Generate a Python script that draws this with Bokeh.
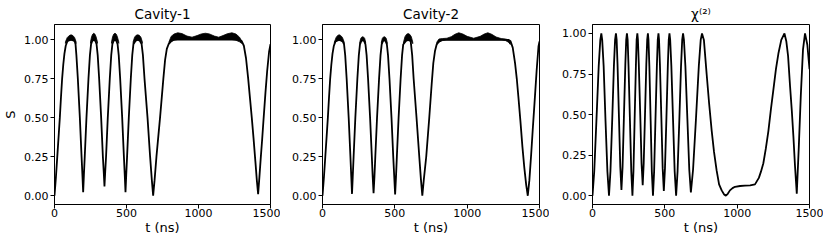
from bokeh.plotting import figure
from bokeh.layouts import row
from bokeh.models import Range1d, FixedTicker, NumeralTickFormatter
from bokeh.embed import file_html
from bokeh.resources import INLINE

# ---------------- data ----------------
titles = ["Cavity-1", "Cavity-2", "χ⁽²⁾"]
x_ticks = [0, 500, 1000, 1500]
y_ticks = [0.0, 0.25, 0.5, 0.75, 1.0]

# Cavity-1 : central curve
t1 = [0, 10, 20, 30, 37, 45, 53, 61, 69, 78, 90, 115, 140, 146, 152, 162, 176, 188, 194, 199,
      204, 210, 222, 236, 246, 254, 262, 273, 284, 292, 300, 310, 324, 336, 342, 347, 352, 358,
      370, 384, 394, 402, 410, 420, 430, 438, 446, 456, 470, 482, 488, 493, 498, 504, 516, 530,
      540, 548, 562, 578, 594, 605, 614, 625, 646, 664, 676, 685, 695, 708, 733, 756, 768, 780,
      792, 810, 830, 1280, 1300, 1315, 1330, 1345, 1358, 1370, 1382, 1395, 1405, 1414, 1423,
      1433, 1442, 1451, 1465, 1477, 1490, 1500]
s1 = [0.0, 0.12, 0.26, 0.40, 0.5, 0.63, 0.75, 0.84, 0.91, 0.96, 0.99, 1.0, 0.99, 0.97, 0.9, 0.75, 0.5, 0.25, 0.13, 0.023,
      0.13, 0.25, 0.5, 0.75, 0.9, 0.97, 0.99, 1.0, 0.99, 0.97, 0.9, 0.75, 0.5, 0.25, 0.15, 0.06, 0.15, 0.25,
      0.5, 0.75, 0.9, 0.97, 0.99, 1.0, 0.99, 0.97, 0.9, 0.75, 0.5, 0.25, 0.13, 0.023, 0.13, 0.25, 0.5, 0.75,
      0.9, 0.97, 0.99, 1.0, 0.99, 0.97, 0.9, 0.75, 0.5, 0.25, 0.1, 0.0, 0.1, 0.25, 0.5, 0.75, 0.87, 0.94,
      0.97, 0.99, 1.0, 1.0, 0.99, 0.96, 0.88, 0.75, 0.62, 0.5, 0.37, 0.22, 0.1, 0.01, 0.12,
      0.25, 0.36, 0.48, 0.66, 0.8, 0.92, 0.97]

# Cavity-1 : fast-oscillation envelope near the maxima (t, lower, upper)
band1_t = [[76, 88, 102, 115, 128, 140, 150],
           [250, 258, 266, 273, 280, 288, 298],
           [396, 404, 412, 420, 428, 436, 446],
           [546, 556, 567, 578, 589, 600, 610],
           [795, 810, 830, 856, 885, 920, 955, 990, 1020, 1048, 1075, 1110, 1140, 1170, 1200, 1232, 1260, 1285, 1300]]
band1_lo = [[0.975, 0.99, 0.995, 0.995, 0.995, 0.99, 0.975],
            [0.975, 0.99, 0.995, 0.995, 0.995, 0.99, 0.975],
            [0.975, 0.99, 0.995, 0.995, 0.995, 0.99, 0.975],
            [0.975, 0.99, 0.995, 0.995, 0.995, 0.99, 0.975],
            [0.97, 0.985, 0.995, 1.0, 1.0, 1.0, 1.0, 1.0, 1.0, 1.0, 1.0, 1.0, 1.0, 1.0, 1.0, 1.0, 0.995, 0.985, 0.975]]
band1_hi = [[0.985, 1.012, 1.025, 1.03, 1.025, 1.012, 0.985],
            [0.985, 1.02, 1.035, 1.04, 1.035, 1.02, 0.985],
            [0.985, 1.02, 1.035, 1.04, 1.035, 1.02, 0.985],
            [0.985, 1.015, 1.027, 1.03, 1.027, 1.015, 0.985],
            [0.985, 1.02, 1.035, 1.043, 1.038, 1.022, 1.015, 1.025, 1.036, 1.04, 1.036, 1.022, 1.015, 1.025, 1.037, 1.043, 1.035, 1.015, 0.99]]

# Cavity-2 : central curve
t2 = [0, 10, 20, 30, 37, 45, 53, 61, 69, 78, 90, 115, 140, 149, 157, 167, 181, 193, 199, 204,
      209, 215, 227, 241, 251, 259, 267, 278, 289, 297, 305, 315, 329, 341, 347, 353, 359, 365,
      377, 391, 401, 409, 417, 427, 437, 445, 453, 463, 477, 489, 496, 502, 508, 514, 526, 540,
      550, 558, 574, 592, 610, 612, 620, 630, 650, 669, 680, 690, 700, 717, 738, 755, 766, 778,
      789, 805, 825, 1285, 1300, 1315, 1331, 1343, 1354, 1368, 1382, 1395, 1408, 1419, 1430,
      1442, 1453, 1466, 1480, 1493, 1500]
s2 = [0.0, 0.12, 0.26, 0.40, 0.5, 0.63, 0.75, 0.84, 0.91, 0.96, 0.99, 1.0, 0.99, 0.97, 0.9, 0.75, 0.5, 0.25, 0.12, 0.012,
      0.12, 0.25, 0.5, 0.75, 0.9, 0.97, 0.99, 1.0, 0.99, 0.97, 0.9, 0.75, 0.5, 0.25, 0.12, 0.017, 0.12, 0.25,
      0.5, 0.75, 0.9, 0.97, 0.99, 1.0, 0.99, 0.97, 0.9, 0.75, 0.5, 0.25, 0.12, 0.008, 0.12, 0.25, 0.5, 0.75,
      0.9, 0.97, 0.99, 1.0, 0.99, 0.97, 0.9, 0.75, 0.5, 0.25, 0.11, 0.0, 0.1, 0.25, 0.5, 0.72, 0.85, 0.93,
      0.97, 0.99, 1.0, 1.0, 0.99, 0.95, 0.85, 0.75, 0.635, 0.48, 0.313, 0.18, 0.07, 0.0, 0.1,
      0.26, 0.42, 0.6, 0.8, 0.957, 0.99]

band2_t = [[82, 94, 105, 115, 125, 138, 150],
           [258, 264, 271, 278, 285, 292, 298],
           [407, 413, 420, 427, 434, 441, 447],
           [560, 570, 581, 592, 603, 614, 624],
           [790, 805, 830, 860, 890, 915, 942, 970, 1000, 1045, 1090, 1118, 1143, 1170, 1200, 1235, 1265, 1285, 1298]]
band2_lo = [[0.975, 0.99, 0.995, 0.995, 0.995, 0.99, 0.975],
            [0.975, 0.99, 0.995, 0.995, 0.995, 0.99, 0.975],
            [0.975, 0.99, 0.995, 0.995, 0.995, 0.99, 0.975],
            [0.975, 0.99, 0.995, 0.995, 0.995, 0.99, 0.975],
            [0.97, 0.985, 0.995, 1.0, 1.0, 1.0, 1.0, 1.0, 1.0, 1.0, 1.0, 1.0, 1.0, 1.0, 1.0, 1.0, 0.995, 0.985, 0.97]]
band2_hi = [[0.985, 1.015, 1.028, 1.032, 1.028, 1.015, 0.985],
            [0.985, 1.008, 1.017, 1.02, 1.017, 1.008, 0.985],
            [0.985, 1.008, 1.017, 1.02, 1.017, 1.008, 0.985],
            [0.985, 1.02, 1.035, 1.04, 1.035, 1.02, 0.985],
            [0.985, 1.005, 1.008, 1.01, 1.02, 1.035, 1.045, 1.037, 1.022, 1.01, 1.022, 1.037, 1.045, 1.035, 1.018, 1.008, 1.005, 1.0, 0.985]]

# chi(2) : single curve
t3 = [0, 12, 27, 43, 54, 61, 67, 77, 90, 103, 114, 124, 136, 148, 156, 162, 167, 173, 183, 192, 200,
      208, 217, 227, 233, 238, 243, 249, 259, 268, 276, 283, 291, 300, 305, 310, 314, 320, 330, 339, 347,
      354, 363, 372, 378, 383, 387, 393, 402, 410, 418, 426, 435, 445, 451, 456, 460, 466, 476, 485, 493,
      501, 511, 521, 527, 532, 537, 545, 557, 568, 578, 588, 600, 612, 620, 626, 632, 642, 656, 669, 680,
      695, 715, 735, 748, 757, 770, 789, 806, 824, 840, 858, 875, 893, 910, 922, 935, 950, 968, 985,
      1020, 1054, 1090, 1123, 1150, 1165, 1181, 1198, 1216, 1233, 1250, 1268, 1285, 1305, 1327, 1340,
      1352, 1366, 1378, 1389, 1400, 1412, 1426, 1440, 1455, 1469, 1485, 1500]
s3 = [0.0, 0.15, 0.46, 0.8, 0.96, 1.0, 0.96, 0.8, 0.46, 0.15, 0.0, 0.15, 0.46, 0.8, 0.96, 1.0, 0.96, 0.81, 0.48, 0.18, 0.035,
      0.18, 0.48, 0.81, 0.96, 1.0, 0.96, 0.8, 0.46, 0.15, 0.0, 0.15, 0.46, 0.8, 0.96, 1.0, 0.96, 0.81, 0.5, 0.2, 0.065,
      0.2, 0.5, 0.81, 0.96, 1.0, 0.96, 0.8, 0.46, 0.15, 0.0, 0.15, 0.46, 0.8, 0.96, 1.0, 0.96, 0.81, 0.48, 0.17, 0.03,
      0.17, 0.48, 0.81, 0.96, 1.0, 0.96, 0.8, 0.46, 0.15, 0.0, 0.15, 0.46, 0.8, 0.96, 1.0, 0.96, 0.8, 0.47, 0.16, 0.02,
      0.16, 0.47, 0.8, 0.96, 1.0, 0.96, 0.75, 0.57, 0.40, 0.27, 0.156, 0.07, 0.033, 0.008, 0.0, 0.012, 0.033, 0.047, 0.055,
      0.06, 0.062, 0.064, 0.07, 0.11, 0.15, 0.2, 0.29, 0.4, 0.53, 0.65, 0.78, 0.876, 0.96, 1.0, 0.95,
      0.86, 0.67, 0.52, 0.36, 0.18, 0.012, 0.3, 0.62, 0.9, 1.0, 0.93, 0.78]

y_ranges = [(-0.056, 1.096), (-0.056, 1.098), (-0.054, 1.055)]

FONT = "DejaVu Sans"


def make_fig(title, fw, border_left, border_right, yr, ylabel=None):
    p = figure(frame_width=fw, frame_height=180, output_backend="svg", toolbar_location=None,
               x_range=Range1d(0, 1500), y_range=Range1d(*yr),
               min_border_left=border_left, min_border_right=border_right,
               min_border_top=24, min_border_bottom=0)
    p.title.text = title
    p.title.align = "center"
    p.title.text_font = FONT
    p.title.text_font_size = "13.5px"
    p.title.text_font_style = "normal"
    p.title.text_color = "black"
    p.title.standoff = 0
    try:
        p.title.padding = 3
    except Exception:
        pass
    p.xgrid.visible = False
    p.ygrid.visible = False
    p.outline_line_color = "black"
    p.outline_line_width = 1
    p.background_fill_color = "white"
    p.border_fill_color = "white"
    for ax in (p.xaxis[0], p.yaxis[0]):
        ax.axis_line_color = "black"
        ax.major_tick_line_color = "black"
        ax.major_tick_out = 4
        ax.major_tick_in = 0
        ax.minor_tick_line_color = None
        ax.major_label_text_font = FONT
        ax.major_label_text_font_size = "11px"
        ax.major_label_text_color = "black"
        ax.axis_label_text_font = FONT
        ax.axis_label_text_font_size = "13px"
        ax.axis_label_text_font_style = "normal"
        ax.axis_label_text_color = "black"
    p.yaxis.major_label_standoff = 2
    p.xaxis.major_label_standoff = 0
    p.xaxis.ticker = FixedTicker(ticks=x_ticks)
    p.yaxis.ticker = FixedTicker(ticks=y_ticks)
    p.yaxis.formatter = NumeralTickFormatter(format="0.00")
    p.xaxis.axis_label = "t (ns)"
    p.xaxis.axis_label_standoff = 0
    if ylabel:
        p.yaxis.axis_label = ylabel
        p.yaxis.axis_label_standoff = 3
    return p


def add_bands(p, bt, blo, bhi):
    xs, ys = [], []
    for t, lo, hi in zip(bt, blo, bhi):
        xs.append(list(t) + list(t)[::-1])
        ys.append(list(hi) + list(lo)[::-1])
    p.patches(xs, ys, fill_color="black", line_color="black", line_width=0.8)


p1 = make_fig(titles[0], 216, 46, 10, y_ranges[0], ylabel="S")
add_bands(p1, band1_t, band1_lo, band1_hi)
p1.line(t1, s1, line_color="black", line_width=1.8)

p2 = make_fig(titles[1], 217, 42, 10, y_ranges[1])
add_bands(p2, band2_t, band2_lo, band2_hi)
p2.line(t2, s2, line_color="black", line_width=1.8)

p3 = make_fig(titles[2], 217, 43, 14, y_ranges[2])
p3.line(t3, s3, line_color="black", line_width=1.8)

layout = row(p1, p2, p3)
open("out.html", "w").write(file_html(layout, INLINE))
